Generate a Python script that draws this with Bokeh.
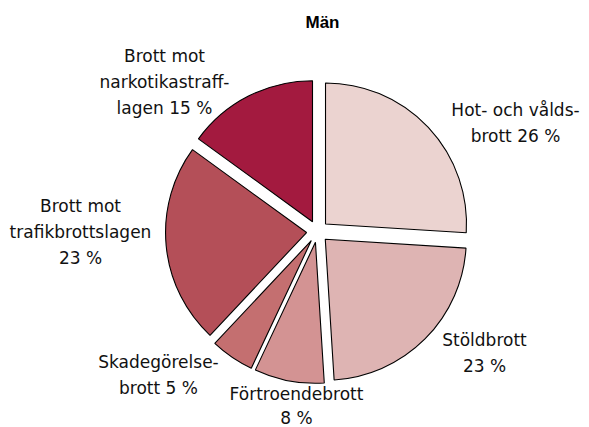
import math
from bokeh.plotting import figure
from bokeh.models import Range1d, ColumnDataSource
from bokeh.core.properties import value
from bokeh.embed import file_html
from bokeh.resources import INLINE

# ---- data ----
categories = ["Hot- och vålds-\nbrott", "Stöldbrott", "Förtroendebrott",
              "Skadegörelse-\nbrott", "Brott mot\ntrafikbrottslagen", "Brott mot\nnarkotikastraff-\nlagen"]
shares = [26, 23, 8, 5, 23, 15]
label_texts = ["Hot- och vålds-\nbrott 26 %", "Stöldbrott\n23 %", "Förtroendebrott\n8 %",
               "Skadegörelse-\nbrott 5 %", "Brott mot\ntrafikbrottslagen\n23 %",
               "Brott mot\nnarkotikastraff-\nlagen 15 %"]
colors = ["#EBD3D0", "#DEB4B3", "#D39393", "#C46F70", "#B44F58", "#A31A3F"]
title_text = "Män"

# ---- layout (pixel space of the page) ----
W, H = 589, 427
def px(x, y):
    return x, H - y

cx, cy = px(317, 231)
R = 141
EXPLODE = 11
label_pos = [(515, 122), (484, 352), (296, 405), (158, 374), (80, 231), (164, 81)]
label_lh = [1.3, 1.3, 1.2, 1.3, 1.3, 1.3]

p = figure(width=W, height=H, output_backend="svg", toolbar_location=None,
           x_range=Range1d(0, W), y_range=Range1d(0, H),
           min_border=0, outline_line_color=None)
p.axis.visible = False
p.grid.visible = False

total = float(sum(shares))
xs, ys, starts, ends = [], [], [], []
cum = 0.0
for s in shares:
    f0 = cum / total
    f1 = (cum + s) / total
    mid = math.pi / 2 - (f0 + f1) / 2 * 2 * math.pi
    xs.append(cx + EXPLODE * math.cos(mid))
    ys.append(cy + EXPLODE * math.sin(mid))
    starts.append(math.pi / 2 - f0 * 2 * math.pi)
    ends.append(math.pi / 2 - f1 * 2 * math.pi)
    cum += s

src = ColumnDataSource(dict(x=xs, y=ys, start=starts, end=ends, color=colors, cat=categories))
p.wedge(x="x", y="y", radius=R, start_angle="start", end_angle="end", direction="clock",
        fill_color="color", line_color="black", line_width=1.1, source=src)

for (a, b), t, lh in zip(label_pos, label_texts, label_lh):
    x, y = px(a, b)
    p.text(x=[x], y=[y], text=[t], text_align="center", text_baseline="middle",
           text_font=value("DejaVu Sans"), text_font_size="17px", text_line_height=lh,
           text_color="#111111")

tx, ty = px(322, 22)
p.text(x=[tx], y=[ty], text=[title_text], text_align="center", text_baseline="middle",
       text_font=value("Liberation Sans"), text_font_style="bold", text_font_size="17px",
       text_color="black")

open("out.html", "w").write(file_html(p, INLINE))
